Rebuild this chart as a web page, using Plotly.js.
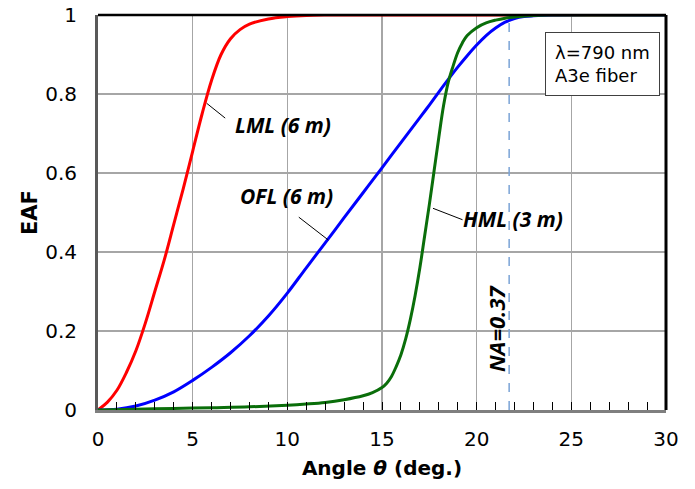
<!DOCTYPE html>
<html><head><meta charset="utf-8">
<script src="https://cdn.plot.ly/plotly-3.0.1.min.js"></script>
<style>body{margin:0;background:#fff}#chart{width:695px;height:489px}</style>
</head><body><div id="chart"></div>
<script>
// LML (6 m) - red
const lmlX = [0,0.5,1,1.5,2,2.5,3,3.5,4,4.5,5,5.5,6,6.5,7,7.5,8,9,10,11,12,30];
const lmlY = [0,0.02,0.05,0.095,0.15,0.22,0.30,0.38,0.47,0.56,0.655,0.75,0.835,0.9,0.94,0.963,0.977,0.99,0.996,0.999,1,1];
// OFL (6 m) - blue
const oflX = [0,1,2,3,4,5,6,7,8,9,10,11,12,13,14,15,16,17,17.5,18,18.5,19,19.5,20,20.5,21,21.5,22,22.5,23,24,30];
const oflY = [0,0.002,0.01,0.025,0.046,0.075,0.108,0.145,0.188,0.238,0.296,0.36,0.423,0.487,0.55,0.613,0.677,0.74,0.772,0.805,0.837,0.868,0.897,0.924,0.948,0.967,0.982,0.991,0.996,0.998,1,1];
// HML (3 m) - green
const hmlX = [0,2,4,6,8,10,11,12,13,14,14.5,15,15.25,15.5,15.75,16,16.25,16.5,16.75,17,17.25,17.5,17.75,18,18.25,18.5,18.75,19,19.25,19.5,20,20.5,21,21.5,22,23,24,30];
const hmlY = [0,0.002,0.004,0.006,0.008,0.012,0.015,0.019,0.026,0.036,0.044,0.057,0.068,0.085,0.11,0.14,0.18,0.23,0.29,0.36,0.44,0.52,0.605,0.69,0.77,0.83,0.87,0.905,0.93,0.948,0.968,0.98,0.987,0.992,0.995,0.999,1,1];
// Numerical aperture
const NA = 0.37;
const naAngle = Math.asin(NA) * 180 / Math.PI;
const xTicks = [0,5,10,15,20,25,30];
const yTicks = [0,0.2,0.4,0.6,0.8,1];
const yTickText = ['0','0.2','0.4','0.6','0.8','1'];

const lw = 3;
const traces = [
  {x:[naAngle,naAngle], y:[0,1], mode:'lines', line:{color:'#7aa3d6', width:1.5, dash:'dash'}, hoverinfo:'skip'},
  {x:lmlX, y:lmlY, mode:'lines', line:{color:'#ff0000', width:lw, shape:'spline', smoothing:1}},
  {x:oflX, y:oflY, mode:'lines', line:{color:'#0000ff', width:lw, shape:'spline', smoothing:1}},
  {x:hmlX, y:hmlY, mode:'lines', line:{color:'#0a6e0a', width:lw, shape:'spline', smoothing:1}}
];

const L = 98, T = 15, W = 568, H = 395;
const px = p => (p - L) / (W / 30);
const py = p => (T + H - p) / H;
const lab = {family:'Open Sans, sans-serif', size:21, color:'#000'};
const tf = {family:'DejaVu Sans, sans-serif', size:20, color:'#000'};
const layout = {
  width:695, height:489,
  margin:{l:L, r:695 - L - W, t:T, b:489 - T - H},
  paper_bgcolor:'#fff', plot_bgcolor:'#fff',
  showlegend:false,
  font:{family:'DejaVu Sans, sans-serif', color:'#000'},
  xaxis:{
    range:[0,30], tickvals:xTicks, ticktext:xTicks.map(String),
    showgrid:true, gridcolor:'#a6a6a6', gridwidth:1.3,
    showline:true, linecolor:'#7f7f7f', linewidth:2.5,
    ticks:'inside', ticklen:8, tickcolor:'#000', tickwidth:1,
    minor:{ticks:'inside', dtick:1, tick0:0, ticklen:8, tickcolor:'#000', tickwidth:1, showgrid:false},
    tickfont:tf, ticklabelstandoff:9, zeroline:false,
    title:{text:'<b>Angle <i>θ</i> (deg.)</b>', font:{size:20, family:'DejaVu Sans, sans-serif', color:'#000'}, standoff:12}
  },
  yaxis:{
    range:[0,1], tickvals:yTicks, ticktext:yTickText,
    showgrid:true, gridcolor:'#a6a6a6', gridwidth:1.3,
    showline:true, linecolor:'#595959', linewidth:3,
    ticks:'', zeroline:false,
    tickfont:tf, ticklabelstandoff:14,
    title:{text:'<b>EAF</b>', font:{size:21, family:'DejaVu Sans, sans-serif', color:'#000'}, standoff:2}
  },
  shapes:[
    {type:'line', xref:'paper', yref:'paper', x0:0, x1:1, y0:1, y1:1, line:{color:'#000', width:2.5}},
    {type:'line', xref:'paper', yref:'paper', x0:1, x1:1, y0:0, y1:1, line:{color:'#000', width:3}}
  ],
  annotations:[
    {x:px(206.7), y:py(103.3), xref:'x', yref:'y', ax:20, ay:16, showarrow:true, arrowhead:0, arrowwidth:1, arrowcolor:'#000', text:''},
    {x:px(283), y:py(125), xref:'x', yref:'y', text:'<b><i>LML (6 m)</i></b>', showarrow:false, font:lab},
    {x:px(328.3), y:py(240), xref:'x', yref:'y', ax:-31, ay:-24, showarrow:true, arrowhead:0, arrowwidth:1, arrowcolor:'#000', text:''},
    {x:px(286), y:py(196), xref:'x', yref:'y', text:'<b><i>OFL (6 m)</i></b>', showarrow:false, font:lab},
    {x:px(433), y:py(208.3), xref:'x', yref:'y', ax:31, ay:12, showarrow:true, arrowhead:0, arrowwidth:1, arrowcolor:'#000', text:''},
    {x:px(513), y:py(219), xref:'x', yref:'y', text:'<b><i>HML (3 m)</i></b>', showarrow:false, font:lab},
    {x:px(496), y:py(328), xref:'x', yref:'y', text:'<b><i>NA=0.37</i></b>', textangle:-90, showarrow:false, font:Object.assign({}, lab, {size:22})},
    {x:px(602), y:py(63.5), xref:'x', yref:'y', text:'λ=790 nm<br>A3e fiber', align:'left', showarrow:false,
     font:{family:'DejaVu Sans, sans-serif', size:18, color:'#000'},
     bordercolor:'#404040', borderwidth:1, borderpad:9, bgcolor:'#fff'}
  ]
};
Plotly.newPlot('chart', traces, layout, {displayModeBar:false, staticPlot:true});
</script></body></html>
